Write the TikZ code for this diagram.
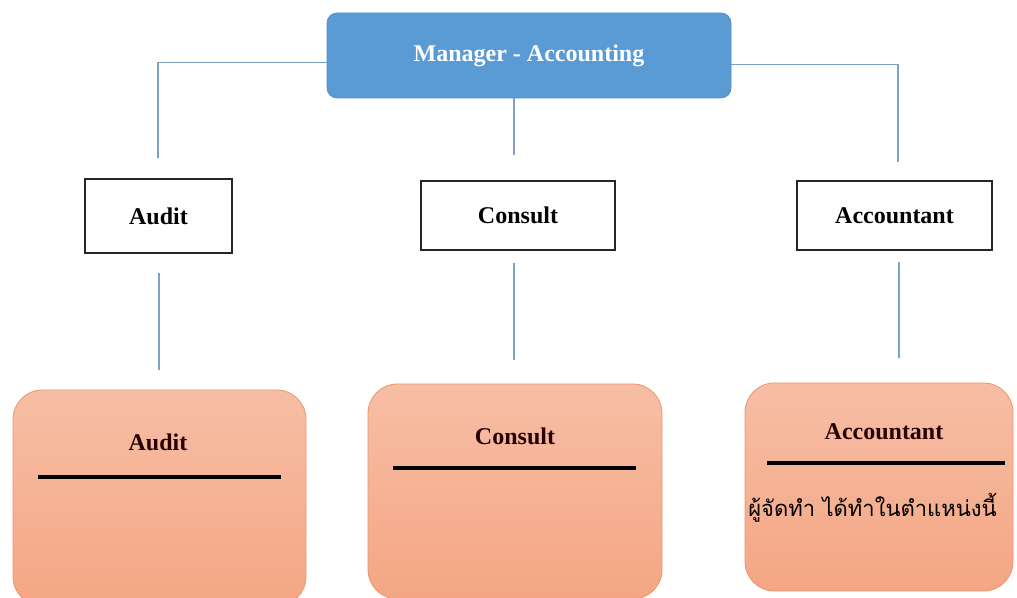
\documentclass[tikz,border=0pt]{standalone}
\usepackage{fontspec}
\setmainfont{Liberation Serif}
\newfontfamily\thaifont[Script=Thai]{Loma}
\usetikzlibrary{positioning}
\definecolor{mgrblue}{RGB}{91,155,213}
\definecolor{linkblue}{RGB}{125,160,200}
\definecolor{salmontop}{RGB}{247,190,165}
\definecolor{salmonbot}{RGB}{244,166,132}
\definecolor{salmonedge}{RGB}{236,150,110}
\begin{document}
\begin{tikzpicture}[x=0.75pt,y=-0.75pt,
	headbox/.style={draw=mgrblue!90!black, line width=0.5pt, fill=mgrblue, rounded corners=7.5pt, inner sep=0pt, text=white, font=\fontsize{18}{22}\selectfont\bfseries},
	unitbox/.style={draw=black!85, line width=1.1pt, fill=white, inner sep=0pt, font=\fontsize{18}{22}\selectfont\bfseries},
	cardbox/.style={draw=salmonedge, line width=0.6pt, top color=salmontop, bottom color=salmonbot, rounded corners=22pt, inner sep=0pt},
	cardtitle/.style={inner sep=0pt, text=black!85!red, font=\fontsize{18}{22}\selectfont\bfseries},
	link/.style={draw=linkblue, line width=0.9pt},
	rule/.style={draw=black, line width=2.3pt}]
	\useasboundingbox (0,0) rectangle (1017,598);
	% top
	\node[headbox, minimum width=303pt, minimum height=63.75pt] (mgr) at (529,55.5) {Manager - Accounting};
	% middle row
	\node[unitbox, minimum width=110.25pt, minimum height=55.5pt] (audit) at (158.5,216) {Audit};
	\node[unitbox, minimum width=145.5pt, minimum height=51.75pt] (consult) at (518,215.5) {Consult};
	\node[unitbox, minimum width=146.25pt, minimum height=51.75pt] (acct) at (894.5,215.5) {Accountant};
	% bottom cards
	\node[cardbox, minimum width=219.75pt, minimum height=162pt] (auditcard) at (159.5,498) {};
	\node[cardbox, minimum width=220.5pt, minimum height=161.25pt] (consultcard) at (515,491.5) {};
	\node[cardbox, minimum width=201pt, minimum height=156pt] (acctcard) at (879,487) {};
	\node[cardtitle] (audittitle) at (158,442) {Audit};
	\node[cardtitle] (consulttitle) at (515,436) {Consult};
	\node[cardtitle] (accttitle) at (884,432) {Accountant};
	\node[inner sep=0pt, anchor=west, font=\thaifont\fontsize{16.5}{20}\selectfont] (acctnote) at (748,508) {ผู้จัดทำ ได้ทำในตำแหน่งนี้};
	\draw[rule] (38,477) -- (281,477);
	\draw[rule] (393,468) -- (636,468);
	\draw[rule] (767,463) -- (1005,463);
	% free ends of the links
	\coordinate (audittop) at (158,158);
	\coordinate (consulttop) at (514,155);
	\coordinate (accttop) at (898,162);
	\coordinate (auditlow) at (159,273);
	\coordinate (auditend) at (159,370);
	\coordinate (consultlow) at (514,263);
	\coordinate (consultend) at (514,360);
	\coordinate (acctlow) at (899,262);
	\coordinate (acctend) at (899,358);
	% links
	\draw[link] ([yshift=-5pt]mgr.west) -| (audittop);
	\draw[link] (consulttop |- mgr.south) -- (consulttop);
	\draw[link] ([yshift=-7pt]mgr.east) -| (accttop);
	\draw[link] (auditlow) -- (auditend);
	\draw[link] (consultlow) -- (consultend);
	\draw[link] (acctlow) -- (acctend);
\end{tikzpicture}
\end{document}
